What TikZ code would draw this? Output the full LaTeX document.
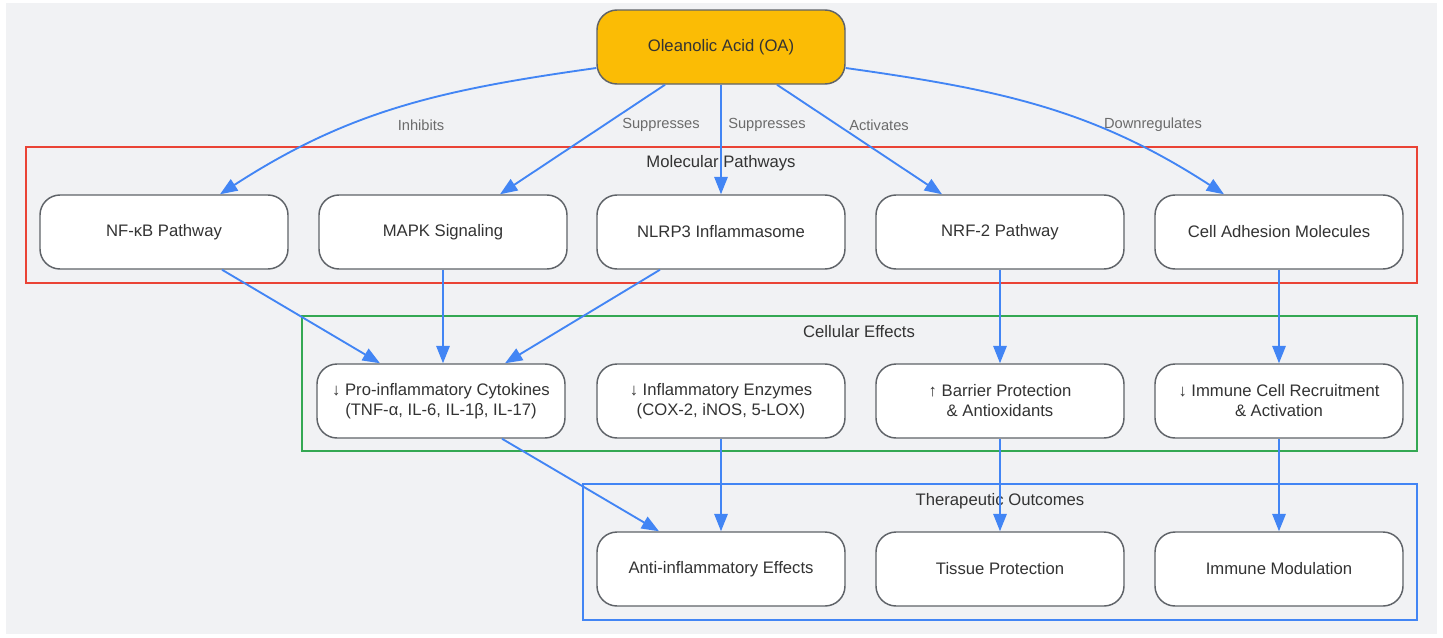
\documentclass[tikz,border=0pt]{standalone}
\usepackage{fontspec}
\setmainfont{Liberation Sans}
\usetikzlibrary{arrows.meta}
\usepackage{xcolor}
\definecolor{oaFill}{HTML}{FBBC05}
\definecolor{bgGray}{HTML}{F1F2F4}
\definecolor{edgeBlue}{HTML}{4285F4}
\definecolor{boxGray}{HTML}{5F6368}
\definecolor{txtGray}{HTML}{333333}
\definecolor{lblGray}{HTML}{6B6B6B}
\definecolor{gRed}{HTML}{EA4335}
\definecolor{gGreen}{HTML}{34A853}

\begin{document}
\begin{tikzpicture}[x=0.75pt,y=0.75pt,
% Box styles
box/.style={rectangle,rounded corners=15pt,draw=boxGray,line width=1.1pt,
	fill=white,minimum width=186pt,minimum height=55.5pt,align=center,
	text=txtGray,font=\fontsize{12.5}{15}\selectfont},
drug/.style={box,fill=oaFill},
% Edge and label style
arr/.style={draw=edgeBlue,line width=1.4pt,
	-{Triangle[length=13pt,width=10pt]}},
lbl/.style={text=lblGray,font=\fontsize{11}{13}\selectfont},
% Group style
group/.style={line width=1.4pt},
ttl/.style={text=txtGray,font=\fontsize{12.5}{15}\selectfont},
]
%% Background
\fill[white] (0,0) rectangle (1443,-637);
\fill[bgGray] (6,-3) rectangle (1437,-634);
\useasboundingbox (0,0) rectangle (1443,-637);

%% Groups
\draw[group,draw=gRed] (26,-147) rectangle (1417,-283);
\node[ttl] (t1) at (721,-163) {Molecular Pathways};
\draw[group,draw=gGreen] (302,-316) rectangle (1417,-451);
\node[ttl] (t2) at (859,-332) {Cellular Effects};
\draw[group,draw=edgeBlue] (583,-484) rectangle (1417,-620);
\node[ttl] (t3) at (1000,-501) {Therapeutic Outcomes};

%% Draw boxes
\node[drug] (oa) at (721,-47) {Oleanolic Acid (OA)};
\node[box] (p1) at (164,-232) {NF-κB Pathway};
\node[box] (p2) at (443,-232) {MAPK Signaling};
\node[box] (p3) at (721,-232) {NLRP3 Inflammasome};
\node[box] (p4) at (1000,-232) {NRF-2 Pathway};
\node[box] (p5) at (1279,-232) {Cell Adhesion Molecules};
\node[box] (c1) at (441,-401) {↓ Pro-inflammatory Cytokines\\(TNF-α, IL-6, IL-1β, IL-17)};
\node[box] (c2) at (721,-401) {↓ Inflammatory Enzymes\\(COX-2, iNOS, 5-LOX)};
\node[box] (c3) at (1000,-401) {↑ Barrier Protection\\\& Antioxidants};
\node[box] (c4) at (1279,-401) {↓ Immune Cell Recruitment\\\& Activation};
\node[box] (o1) at (721,-569) {Anti-inflammatory Effects};
\node[box] (o2) at (1000,-569) {Tissue Protection};
\node[box] (o3) at (1279,-569) {Immune Modulation};

%% Draw edges
\draw[arr] ([yshift=-15.75pt]oa.west) to[out=188,in=33] ([xshift=42pt]p1.north);
\draw[arr] ([xshift=-42pt]oa.south) -- ([xshift=42.75pt]p2.north);
\draw[arr] (oa.south) -- (p3.north);
\draw[arr] ([xshift=42pt]oa.south) -- ([xshift=-43.5pt]p4.north);
\draw[arr] ([yshift=-15.75pt]oa.east) to[out=-8,in=147] ([xshift=-41.25pt]p5.north);
\node[lbl] (l1) at (421,-125) {Inhibits};
\node[lbl] (l2) at (661,-125) {Suppresses};
\node[lbl] (l3) at (767,-125) {Suppresses};
\node[lbl] (l4) at (879,-125) {Activates};
\node[lbl] (l5) at (1153,-125) {Downregulates};

\draw[arr] ([xshift=43.5pt]p1.south) -- ([xshift=-45.75pt]c1.north);
\draw[arr] (p2.south) -- (p2.south|-c1.north);
\draw[arr] ([xshift=-45.75pt]p3.south) -- ([xshift=48pt]c1.north);
\draw[arr] (p4.south) -- (c3.north);
\draw[arr] (p5.south) -- (c4.north);

\draw[arr] ([xshift=45.75pt]c1.south) -- ([xshift=-46.5pt]o1.north);
\draw[arr] (c2.south) -- (o1.north);
\draw[arr] (c3.south) -- (o2.north);
\draw[arr] (c4.south) -- (o3.north);

\end{tikzpicture}
\end{document}
